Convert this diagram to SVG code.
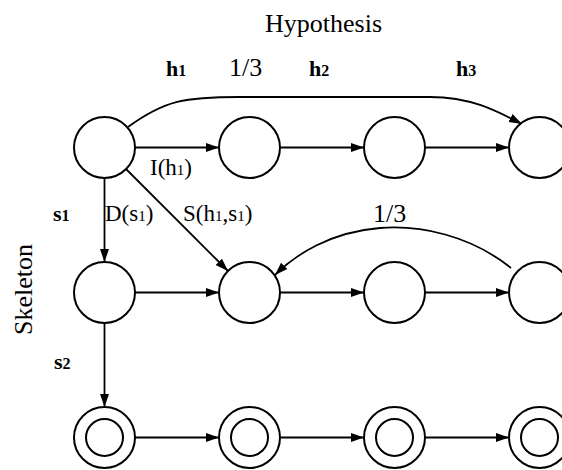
<svg xmlns="http://www.w3.org/2000/svg" width="562" height="470" viewBox="0 0 562 470">
<style>
.n{fill:#fff;stroke:#000;stroke-width:2}
.e{fill:none;stroke:#000;stroke-width:1.8;marker-end:url(#ah)}
text{font-family:"Liberation Serif","Times New Roman",serif;fill:#000}
.t{font-size:26px}
.l{font-size:23px}
.b{font-size:22px;font-weight:bold}
.s{font-size:15px}
.bs{font-size:16px}
</style>
<defs>
<marker id="ah" markerUnits="userSpaceOnUse" markerWidth="14" markerHeight="10" refX="13" refY="5" orient="auto">
<path d="M0,0.5 L13,5 L0,9.5 z" fill="#000"/>
</marker>
</defs>
<rect width="562" height="470" fill="#fff"/>
<text class="t" x="265" y="32">Hypothesis</text>
<text class="t" transform="translate(32,335) rotate(-90)">Skeleton</text>
<text class="b" x="166" y="76">h<tspan class="bs">1</tspan></text>
<text class="t" x="229" y="76">1/3</text>
<text class="b" x="309" y="76">h<tspan class="bs">2</tspan></text>
<text class="b" x="456" y="76">h<tspan class="bs">3</tspan></text>
<text class="l" x="150" y="175">I(h<tspan class="s">1</tspan>)</text>
<text class="b" x="53" y="221">s<tspan class="bs">1</tspan></text>
<text class="l" x="105" y="221">D(s<tspan class="s">1</tspan>)</text>
<text class="l" x="183" y="221">S(h<tspan class="s">1</tspan>,s<tspan class="s">1</tspan>)</text>
<text class="t" x="373" y="222">1/3</text>
<text class="b" x="54" y="369">s<tspan class="bs">2</tspan></text>
<g id="connectors">
<path class="e" d="M135,147.5 H219"/>
<path class="e" d="M280,147.5 H364"/>
<path class="e" d="M425,147.5 H509"/>
<path class="e" d="M135,292.5 H219"/>
<path class="e" d="M280,292.5 H364"/>
<path class="e" d="M425,292.5 H509"/>
<path class="e" d="M135,437.5 H219"/>
<path class="e" d="M280,437.5 H364"/>
<path class="e" d="M425,437.5 H509"/>
<path class="e" d="M104.5,178 V262"/>
<path class="e" d="M104.5,323 V407"/>
<path class="e" d="M126,169 L228,271"/>
<path class="e" d="M128,127 C165,100 185,97 240,97 L430,97 C470,97 495,110 522,124"/>
<path class="e" d="M511,268 C470,235 420,225 380,228 C330,232 295,255 275,275"/>
</g>
<g id="n11"><circle class="n" cx="104.5" cy="147.5" r="30.5"/></g>
<g id="n12"><circle class="n" cx="249.5" cy="147.5" r="30.5"/></g>
<g id="n13"><circle class="n" cx="394.5" cy="147.5" r="30.5"/></g>
<g id="n14"><circle class="n" cx="539.5" cy="147.5" r="30.5"/></g>
<g id="n21"><circle class="n" cx="104.5" cy="292.5" r="30.5"/></g>
<g id="n22"><circle class="n" cx="249.5" cy="292.5" r="30.5"/></g>
<g id="n23"><circle class="n" cx="394.5" cy="292.5" r="30.5"/></g>
<g id="n24"><circle class="n" cx="539.5" cy="292.5" r="30.5"/></g>
<g id="n31"><circle class="n" cx="104.5" cy="437.5" r="30.5"/><circle class="n" cx="104.5" cy="437.5" r="18.5"/></g>
<g id="n32"><circle class="n" cx="249.5" cy="437.5" r="30.5"/><circle class="n" cx="249.5" cy="437.5" r="18.5"/></g>
<g id="n33"><circle class="n" cx="394.5" cy="437.5" r="30.5"/><circle class="n" cx="394.5" cy="437.5" r="18.5"/></g>
<g id="n34"><circle class="n" cx="539.5" cy="437.5" r="30.5"/><circle class="n" cx="539.5" cy="437.5" r="18.5"/></g>
</svg>
